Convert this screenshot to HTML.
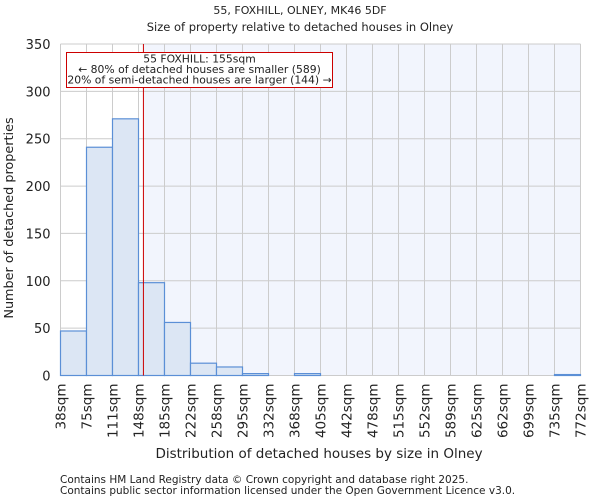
<!DOCTYPE html>
<html><head><meta charset="utf-8"><style>
body{margin:0;background:#fff;font-family:"DejaVu Sans","Liberation Sans",sans-serif;}
svg text{font-family:"DejaVu Sans","Liberation Sans",sans-serif;fill:#222;}
</style></head><body>
<svg id="chart" width="600" height="500">
<text x="300" y="14" text-anchor="middle" font-size="11">55, FOXHILL, OLNEY, MK46 5DF</text>
<text x="300" y="31" text-anchor="middle" font-size="11.5">Size of property relative to detached houses in Olney</text>
<g id="plot"></g>
<text x="319" y="458" text-anchor="middle" font-size="13.5">Distribution of detached houses by size in Olney</text>
<text transform="translate(13,218) rotate(-90)" text-anchor="middle" font-size="12.8">Number of detached properties</text>
<text x="60" y="483" font-size="10.5">Contains HM Land Registry data © Crown copyright and database right 2025.</text>
<text x="60" y="494" font-size="10.5">Contains public sector information licensed under the Open Government Licence v3.0.</text>
</svg>
<script>
const edges=["38sqm","75sqm","111sqm","148sqm","185sqm","222sqm","258sqm","295sqm","332sqm","368sqm","405sqm","442sqm","478sqm","515sqm","552sqm","589sqm","625sqm","662sqm","699sqm","735sqm","772sqm"];
const edgeVals=[38,75,111,148,185,222,258,295,332,368,405,442,478,515,552,589,625,662,699,735,772];
const counts=[47,241,271,98,56,13,9,2,0,2,0,0,0,0,0,0,0,0,0,1];
const yTicks=[0,50,100,150,200,250,300,350];
const marker=155;
const L=60.5,R=580.5,T=44,B=375.5,yMax=350;
const ns="http://www.w3.org/2000/svg";
const g=document.getElementById('plot');
const bw=(R-L)/counts.length;
const xi=i=>L+i*bw;
const y=v=>B-(v/yMax)*(B-T);
function xv(v){for(let i=0;i<edgeVals.length-1;i++){if(v<=edgeVals[i+1])return xi(i)+(v-edgeVals[i])/(edgeVals[i+1]-edgeVals[i])*bw;}return R;}
function mk(t,a){const e=document.createElementNS(ns,t);for(const k in a)e.setAttribute(k,a[k]);g.appendChild(e);return e;}
const mx=xv(marker);
let e;
e=mk('rect',{x:mx,y:T,width:R-mx,height:B-T,fill:'#f2f5fd'});


yTicks.forEach(t=>{
 e=mk('line',{x1:L,x2:R,y1:y(t),y2:y(t),stroke:'#cccccc','stroke-width':1});
 
 
 e=mk('text',{x:L-10,y:y(t)+5,'text-anchor':'end','font-size':13});
 e.textContent=t;
 
 
});
edges.forEach((s,i)=>{
 e=mk('line',{x1:xi(i),x2:xi(i),y1:T,y2:B,stroke:'#cccccc','stroke-width':1});
 
 
 e=mk('text',{transform:`translate(${xi(i)+5},${B+8}) rotate(-90)`,'text-anchor':'end','font-size':13.5});
 e.textContent=s;
 
 
});
counts.forEach((c,i)=>{
 if(c<=0)return;
 e=mk('rect',{x:xi(i),y:y(c),width:bw,height:B-y(c),fill:'#dce6f4',stroke:'#5b8fd6','stroke-width':1.2});
 
 
});
e=mk('line',{x1:mx,x2:mx,y1:T,y2:B,stroke:'#cc0000','stroke-width':1});


e=mk('rect',{x:66.5,y:52.5,width:266,height:35,fill:'#fff',stroke:'#cc0000','stroke-width':1});


["55 FOXHILL: 155sqm","← 80% of detached houses are smaller (589)","20% of semi-detached houses are larger (144) →"].forEach((s,i)=>{
 e=mk('text',{x:199.5,y:62.5+i*10.5,'text-anchor':'middle','font-size':10.8});
 e.textContent=s;
 
 
});
</script>
</body></html>
